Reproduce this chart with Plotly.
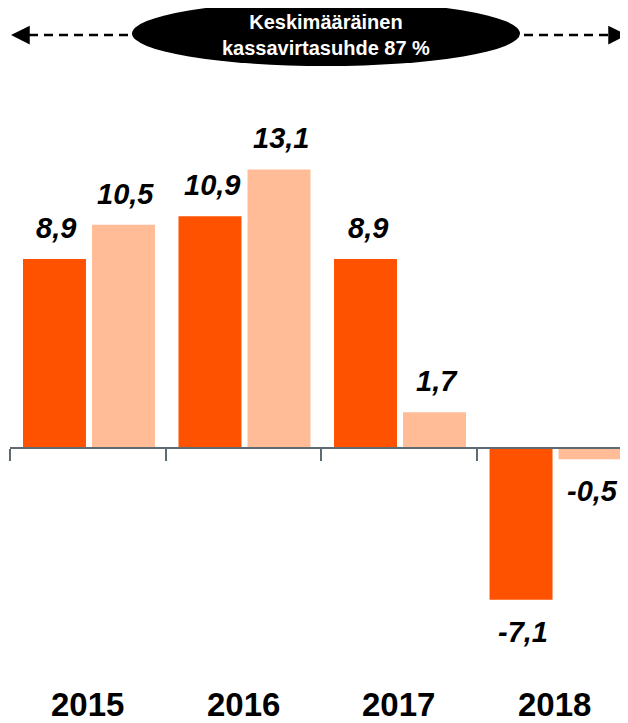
import plotly.graph_objects as go

years = ["2015", "2016", "2017", "2018"]
series_a = [8.9, 10.9, 8.9, -7.1]
series_b = [10.5, 13.1, 1.7, -0.5]
labels_a = ["8,9", "10,9", "8,9", "-7,1"]
labels_b = ["10,5", "13,1", "1,7", "-0,5"]
banner_text = "Keskimääräinen<br>kassavirtasuhde 87 %"

DARK = "#FF5200"
LIGHT = "#FFBC96"
AXIS = "#5F6B73"
FONT = "Liberation Sans, Arial, sans-serif"

# page body has an 8px margin; figure is placed at (8, 8)
OFF = 8
W, H = 628 - OFF, 723 - OFF
PL, PT, PB = 10, 70, 660          # plot area edges in page pixels
ML, MT = PL - OFF, PT - OFF
MR = 0
MB = H - (PB - OFF)
PW = W - ML - MR
PH = H - MT - MB

Y_MIN, Y_MAX = -9.93, 17.77
X_MIN, X_MAX = -0.5, 3.474

bar_w = 0.405
off_a = -0.4164
off_b = 0.0273

xs = list(range(len(years)))

fig = go.Figure()
fig.add_trace(go.Bar(x=xs, y=series_a, width=bar_w, offset=off_a,
                     marker=dict(color=DARK, line=dict(width=0)), showlegend=False,
                     hoverinfo="y"))
fig.add_trace(go.Bar(x=xs, y=series_b, width=bar_w, offset=off_b,
                     marker=dict(color=LIGHT, line=dict(width=0)), showlegend=False,
                     hoverinfo="y"))

def px_x(p):
    return (p - PL) / PW

def px_y(p):
    return (PB - p) / PH

zero_pos = (0 - Y_MIN) / (Y_MAX - Y_MIN)

annotations = []
for i in xs:
    for vals, labs, off in ((series_a, labels_a, off_a), (series_b, labels_b, off_b)):
        v = vals[i]
        annotations.append(dict(
            x=i + off + bar_w / 2, y=v, xref="x", yref="y",
            text="<b><i>%s</i></b>" % labs[i], showarrow=False,
            font=dict(family=FONT, size=29, color="#000000"),
            yanchor="middle", xanchor="center",
            yshift=31 if v >= 0 else -32, xshift=2,
        ))
    annotations.append(dict(
        x=i, y=px_y(704), xref="x", yref="paper",
        text="<b>%s</b>" % years[i], showarrow=False,
        font=dict(family=FONT, size=33, color="#000000"),
        yanchor="middle", xanchor="center", borderpad=0,
    ))

# banner text
annotations.append(dict(
    x=px_x(326), y=px_y(35), xref="paper", yref="paper",
    text="<b>%s</b>" % banner_text, showarrow=False,
    font=dict(family=FONT, size=20, color="#FFFFFF"),
    yanchor="middle", xanchor="center",
))
# arrowheads
annotations.append(dict(
    x=px_x(11), y=px_y(35), xref="paper", yref="paper", text="",
    showarrow=True, arrowhead=2, arrowsize=1.5, arrowwidth=2.5, arrowcolor="#000000",
    ax=18, ay=0,
))
annotations.append(dict(
    x=px_x(634), y=px_y(35), xref="paper", yref="paper", text="",
    showarrow=True, arrowhead=2, arrowsize=1.5, arrowwidth=2.5, arrowcolor="#000000",
    ax=-18, ay=0,
))

shapes = [
    dict(type="line", xref="paper", yref="paper",
         x0=px_x(14), x1=px_x(628), y0=px_y(35), y1=px_y(35),
         line=dict(color="#000000", width=2.5, dash="9px,6px")),
    dict(type="circle", xref="paper", yref="paper",
         x0=px_x(132), x1=px_x(520), y0=px_y(1), y1=px_y(66),
         fillcolor="#000000", line=dict(color="#000000", width=0)),
]

fig.update_layout(
    width=W, height=H,
    margin=dict(l=ML, r=MR, t=MT, b=MB, pad=0),
    paper_bgcolor="#FFFFFF", plot_bgcolor="#FFFFFF",
    barmode="overlay",
    annotations=annotations,
    shapes=shapes,
    xaxis=dict(
        type="linear", range=[X_MIN, X_MAX],
        tickmode="array", tickvals=[-0.5, 0.5, 1.5, 2.5], showticklabels=False,
        ticks="outside", ticklen=12, tickwidth=2, tickcolor=AXIS,
        showline=True, linecolor=AXIS, linewidth=2,
        showgrid=False, zeroline=False,
        anchor="free", position=zero_pos, fixedrange=True,
    ),
    yaxis=dict(
        range=[Y_MIN, Y_MAX], visible=False, showgrid=False, zeroline=False,
        fixedrange=True,
    ),
    showlegend=False,
)

fig.write_html("out.html")
